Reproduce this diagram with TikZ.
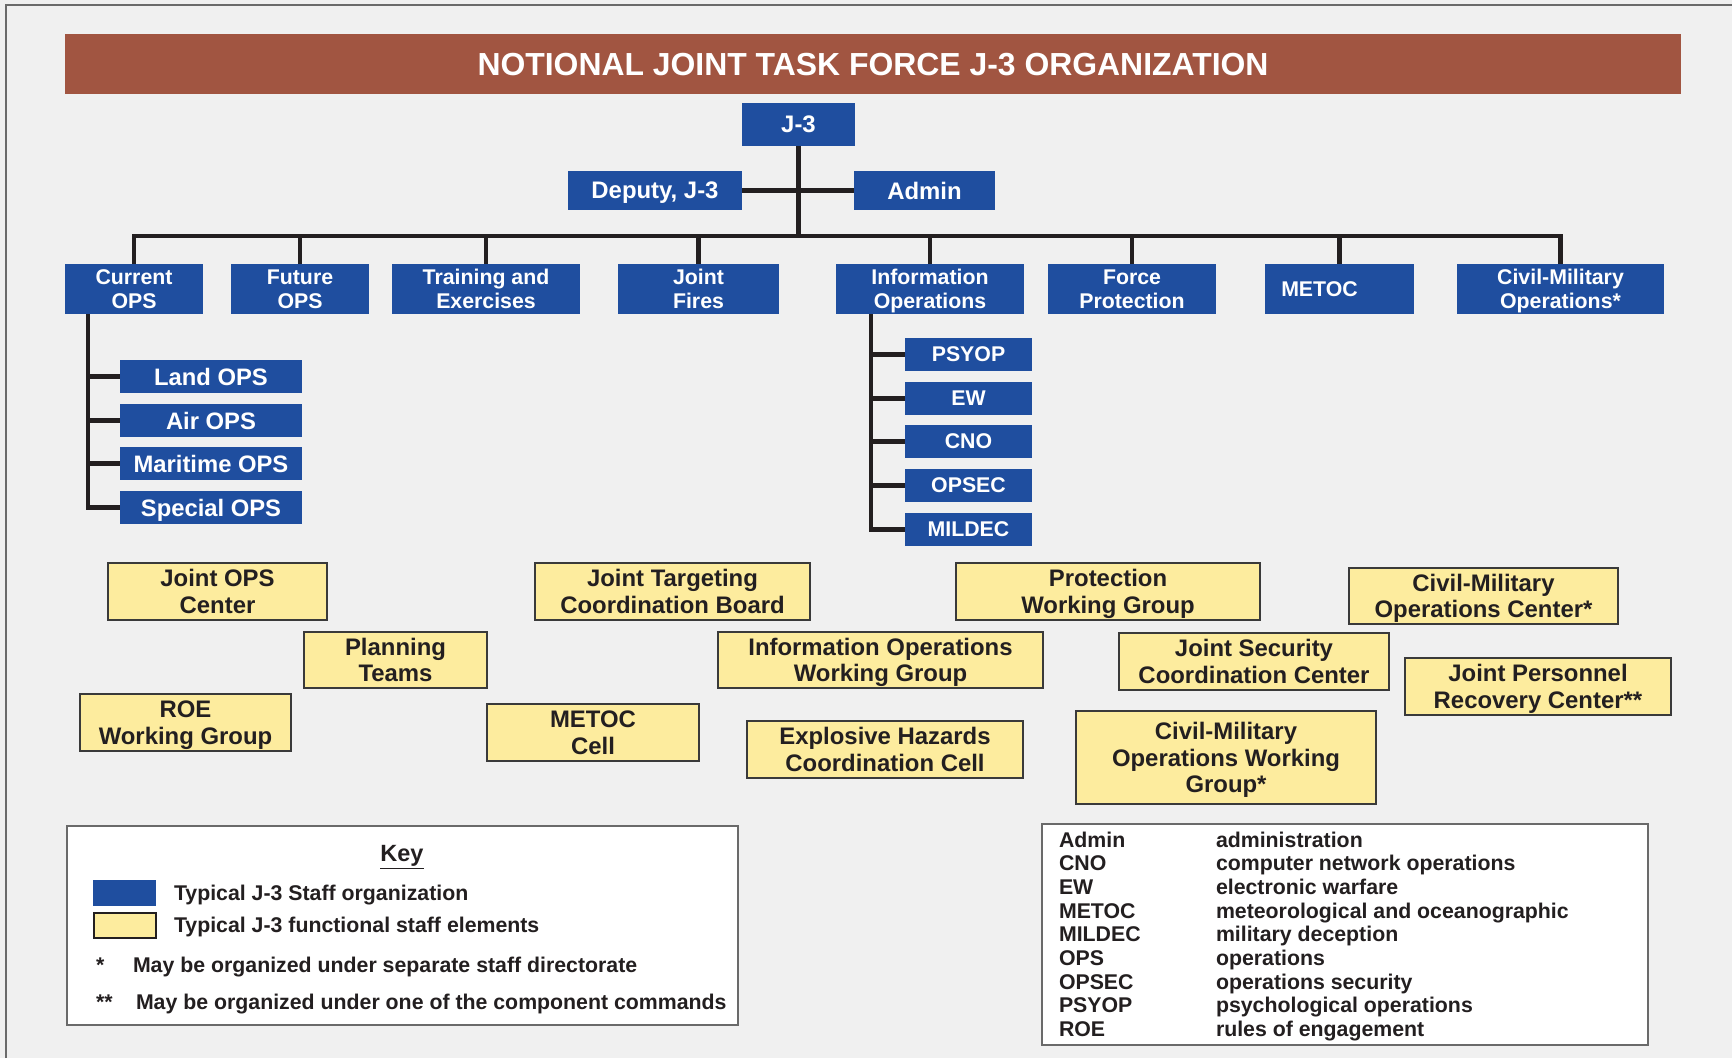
\documentclass[tikz,border=0pt]{standalone}
\usepackage{fontspec}
\setmainfont{Liberation Sans}
\definecolor{pagebg}{HTML}{F0F0F0}
\definecolor{framegray}{HTML}{6A6A6A}
\definecolor{titlebrown}{HTML}{A15541}
\definecolor{jblue}{HTML}{1F4E9F}
\definecolor{jyellow}{HTML}{FDEC9E}
\definecolor{boxedge}{HTML}{3A3A3A}
\definecolor{ink}{HTML}{231F20}
\begin{document}
\begin{tikzpicture}[x=1pt, y=-1pt,
  box/.style={inner sep=0pt, outer sep=0pt, align=center, text depth=0pt},
  wh/.style 2 args={minimum width=#1pt, minimum height=#2pt},
  bluebox/.style={box, fill=jblue, text=white},
  lvlone/.style={bluebox, font=\bfseries\fontsize{23.9}{27}\selectfont},
  lvltwo/.style={bluebox, wh={0}{50}, font=\bfseries\fontsize{21.3}{24.4}\selectfont},
  subops/.style={bluebox, wh={182}{33}, font=\bfseries\fontsize{23.8}{26}\selectfont},
  subio/.style={bluebox, wh={127}{33}, font=\bfseries\fontsize{21.3}{24}\selectfont},
  fnbox/.style={box, fill=jyellow, draw=boxedge, line width=1.5pt, text=ink,
    font=\bfseries\fontsize{23.9}{26.6}\selectfont},
  wire/.style={draw=ink, line width=4.5pt},
  panel/.style={box, fill=white, draw=framegray, line width=1.5pt},
  keytext/.style={inner sep=0pt, outer sep=0pt, anchor=base west, text=ink,
    font=\bfseries\fontsize{21.3}{24}\selectfont},
  abbrtext/.style={inner sep=0pt, outer sep=0pt, anchor=base west, text=ink,
    font=\bfseries\fontsize{21.3}{23.7}\selectfont}]

% page background and frame
\fill[pagebg] (0,0) rectangle (1732,1058);
\useasboundingbox (0,0) rectangle (1732,1058);
\draw[framegray, line width=2pt] (5.5,1058) -- (5.5,4.7) -- (1732,4.7);

% title bar
\node[box, fill=titlebrown, text=white, wh={1616}{60},
  font=\bfseries\fontsize{31.9}{36}\selectfont] (title) at (873,64)
  {NOTIONAL JOINT TASK FORCE J-3 ORGANIZATION};

% top of the staff
\node[lvlone, wh={113}{43}] (j3)  at (798.5,124.5) {J-3};
\node[lvlone, wh={174}{39}] (dep) at (655,190.5) {Deputy, J-3};
\node[lvlone, wh={141}{39}] (adm) at (924.5,190.5) {Admin};

% divisions
\node[lvltwo, minimum width=138pt] (cur) at (134,289)    {Current\\OPS};
\node[lvltwo, minimum width=138pt] (fut) at (300,289)    {Future\\OPS};
\node[lvltwo, minimum width=188pt] (trn) at (486,289)    {Training and\\Exercises};
\node[lvltwo, minimum width=161pt] (jf)  at (698.5,289)  {Joint\\Fires};
\node[lvltwo, minimum width=188pt] (io)  at (930,289)    {Information\\Operations};
\node[lvltwo, minimum width=168pt] (fp)  at (1132,289)   {Force\\Protection};
\node[lvltwo, minimum width=149pt] (met) at (1339.5,289) {METOC\hspace*{40pt}};
\node[lvltwo, minimum width=207pt] (cmo) at (1560.5,289) {Civil-Military\\Operations*};

% current operations branches
\node[subops] (land) at (211,376.5) {Land OPS};
\node[subops] (air)  at (211,420.5) {Air OPS};
\node[subops] (mar)  at (211,463.5) {Maritime OPS};
\node[subops] (spc)  at (211,507.5) {Special OPS};

% information operations branches
\node[subio] (psy)   at (968.5,354.5) {PSYOP};
\node[subio] (ew)    at (968.5,398.5) {EW};
\node[subio] (cno)   at (968.5,441.5) {CNO};
\node[subio] (opsec) at (968.5,485.5) {OPSEC};
\node[subio] (mil)   at (968.5,529.5) {MILDEC};

% connectors
\coordinate (bus) at (798.5,236);
\draw[wire] (dep) -- (adm);
\draw[wire] (j3.south) -- (j3.south |- bus);
\draw[wire] (cur.north) |- (bus) -| (cmo.north);
\foreach \n in {fut,trn,jf,io,fp,met}
  \draw[wire] (\n.north) -- (\n.north |- bus);

\coordinate (cspine) at ([xshift=23pt]cur.south west);
\draw[wire] (cspine) |- (spc.west);
\foreach \n in {land,air,mar}
  \draw[wire] (\n.west -| cspine) -- (\n.west);

\coordinate (ispine) at ([xshift=35pt]io.south west);
\draw[wire] (ispine) |- (mil.west);
\foreach \n in {psy,ew,cno,opsec}
  \draw[wire] (\n.west -| ispine) -- (\n.west);

% functional staff elements
\node[fnbox, wh={219}{57}] (joc)   at (217.5,591.5) {Joint OPS\\Center};
\node[fnbox, wh={275}{57}] (jtcb)  at (672.5,591.5) {Joint Targeting\\Coordination Board};
\node[fnbox, wh={183}{56}] (plan)  at (395.5,660)   {Planning\\Teams};
\node[fnbox, wh={325}{56}] (iowg)  at (880.5,660)   {Information Operations\\Working Group};
\node[fnbox, wh={211}{57}] (roe)   at (185.5,722.5) {ROE\\Working Group};
\node[fnbox, wh={212}{57}] (metc)  at (593,732.5)   {METOC\\Cell};
\node[fnbox, wh={276}{57}] (ehcc)  at (885,749.5)   {Explosive Hazards\\Coordination Cell};
\node[fnbox, wh={304}{57}] (pwg)   at (1108,591.5)  {Protection\\Working Group};
\node[fnbox, wh={269}{56}] (cmoc)  at (1483.5,596)  {Civil-Military\\Operations Center*};
\node[fnbox, wh={270}{57}] (jscc)  at (1254,661.5)  {Joint Security\\Coordination Center};
\node[fnbox, wh={266}{57}] (jprc)  at (1538,686.5)  {Joint Personnel\\Recovery Center**};
\node[fnbox, wh={300}{93}] (cmowg) at (1226,757.5)  {Civil-Military\\Operations Working\\Group*};

% key
\node[panel, wh={671}{199}] (key) at (402.5,925.5) {};
\node[inner sep=0pt, text=ink, font=\bfseries\fontsize{23.5}{27}\selectfont]
  (keyttl) at (402,857) {\underline{Key}};
\node[box, fill=jblue, wh={63}{26}] (swb) at (124.5,893) {};
\node[box, fill=jyellow, draw=ink, line width=2pt, wh={62}{25}] (swy) at (125,925) {};
\node[keytext] (k1) at (174,900.5) {Typical J-3 Staff organization};
\node[keytext] (k2) at (174,932)   {Typical J-3 functional staff elements};
\node[keytext] (s1) at (96,972)    {*};
\node[keytext] (n1) at (133,972)   {May be organized under separate staff directorate};
\node[keytext] (s2) at (96,1009)   {**};
\node[keytext] (n2) at (136,1009)  {May be organized under one of the component commands};

% abbreviations
\node[panel, wh={606}{221}] (abbr) at (1345,934.5) {};
\foreach \ab/\df [count=\i from 0] in {
    Admin/administration,
    CNO/computer network operations,
    EW/electronic warfare,
    METOC/meteorological and oceanographic,
    MILDEC/military deception,
    OPS/operations,
    OPSEC/operations security,
    PSYOP/psychological operations,
    ROE/rules of engagement} {
  \node[abbrtext] (ab\i) at (1059,847+23.7*\i) {\ab};
  \node[abbrtext] (df\i) at (1216,847+23.7*\i) {\df};
}
\end{tikzpicture}
\end{document}
